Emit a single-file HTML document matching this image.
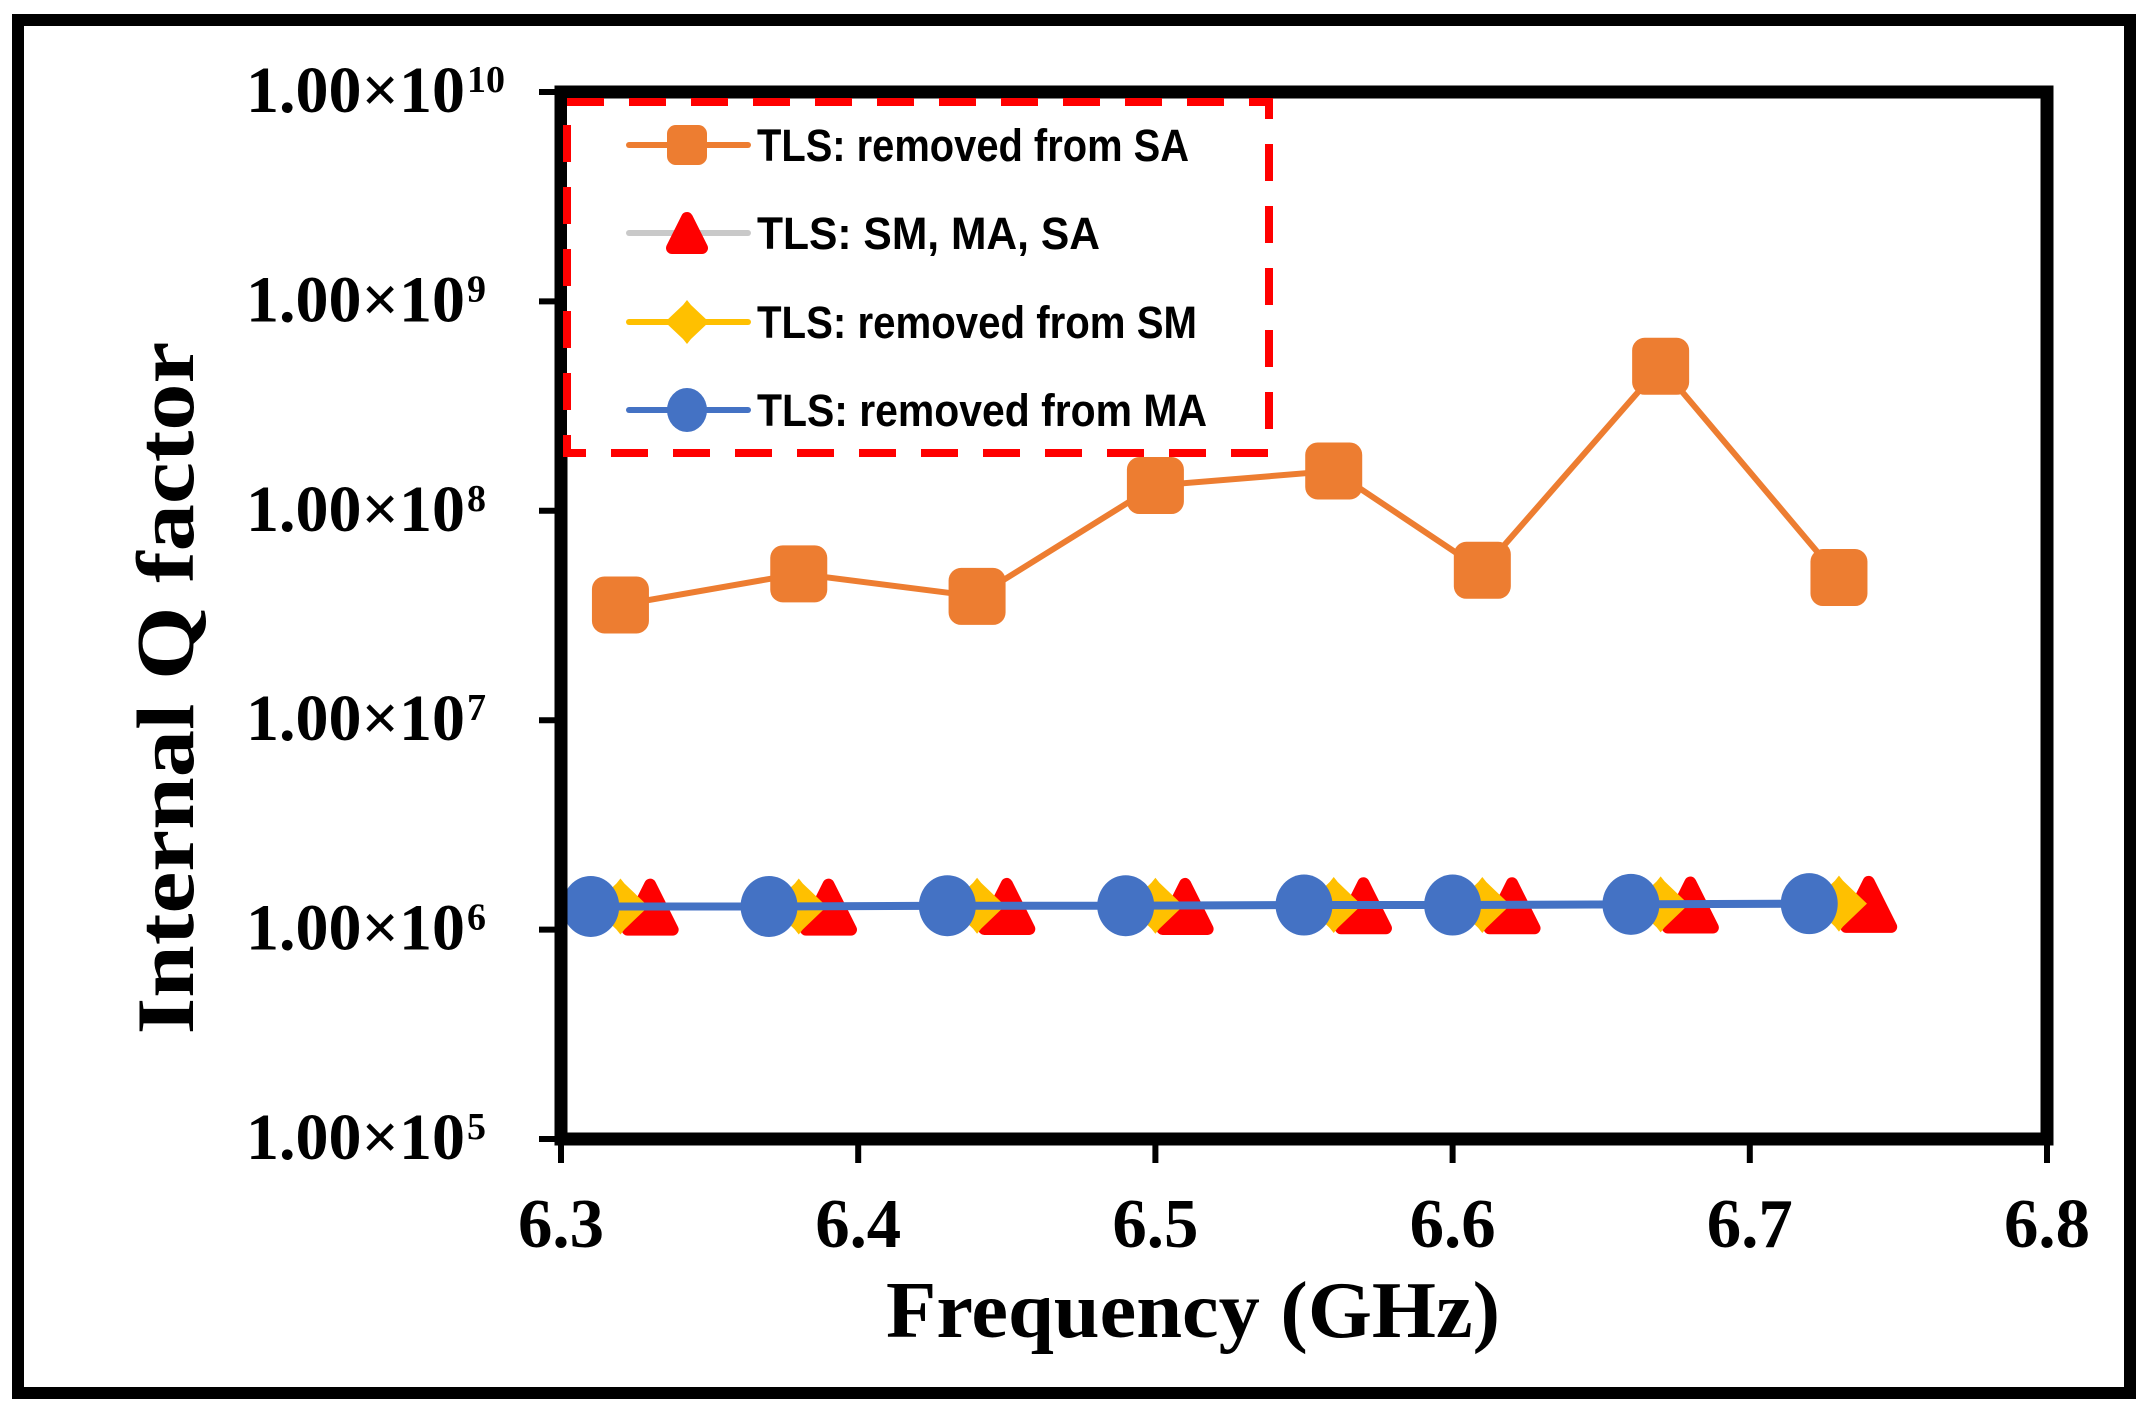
<!DOCTYPE html>
<html><head><meta charset="utf-8"><style>
html,body{margin:0;padding:0;background:#fff;}
svg{display:block;}
</style></head><body>
<svg id="chart" width="2144" height="1413" viewBox="0 0 2144 1413" xmlns="http://www.w3.org/2000/svg">
<rect x="18" y="20" width="2112" height="1373" fill="#fff" stroke="#000" stroke-width="12"/>
<g id="marks"></g>
<g id="axes"></g>
<g id="legend"></g>
<text x="1193" y="1337" font-family="Liberation Serif, serif" font-weight="bold" font-size="80" text-anchor="middle" textLength="614" lengthAdjust="spacingAndGlyphs">Frequency (GHz)</text>
<text transform="translate(193,688) rotate(-90)" x="0" y="0" font-family="Liberation Serif, serif" font-weight="bold" font-size="82" text-anchor="middle" textLength="693" lengthAdjust="spacingAndGlyphs">Internal Q factor</text>
</svg>
<script>
const NS='http://www.w3.org/2000/svg';
const xTicks=[6.3,6.4,6.5,6.6,6.7,6.8];
const xTickLabels=['6.3','6.4','6.5','6.6','6.7','6.8'];
const yExps=[5,6,7,8,9,10];
const freqSA=[6.32,6.38,6.44,6.50,6.56,6.61,6.67,6.73];
const qSA=[3.55e7,5.0e7,3.9e7,1.32e8,1.55e8,5.2e7,4.9e8,4.8e7];
const freqAll=[6.33,6.39,6.45,6.51,6.57,6.62,6.68,6.74];
const qAll=[1.28e6,1.28e6,1.29e6,1.29e6,1.30e6,1.30e6,1.31e6,1.32e6];
const freqSM=[6.32,6.38,6.44,6.50,6.56,6.61,6.67,6.73];
const qSM=[1.29e6,1.29e6,1.30e6,1.30e6,1.31e6,1.31e6,1.32e6,1.33e6];
const freqMA=[6.31,6.37,6.43,6.49,6.55,6.60,6.66,6.72];
const qMA=[1.29e6,1.29e6,1.30e6,1.30e6,1.31e6,1.31e6,1.32e6,1.33e6];
const legendLabels=['TLS: removed from SA','TLS: SM, MA, SA','TLS: removed from SM','TLS: removed from MA'];

const X0=561,X1=2047,Y0=1139,Y1=92;
function xs(f){return X0+(f-6.3)/0.5*(X1-X0);}
function ys(q){return Y0-(Math.log10(q)-5)/5*(Y0-Y1);}
function el(t,a,p){const e=document.createElementNS(NS,t);for(const k in a)e.setAttribute(k,a[k]);p.appendChild(e);return e;}
const marks=document.getElementById('marks'),axes=document.getElementById('axes'),leg=document.getElementById('legend');

function square(cx,cy,s,col,p){return el('rect',{x:cx-s/2,y:cy-s/2,width:s,height:s,rx:s*0.22,fill:col},p);}
function tri(cx,cy,s,col,p){const h=s;return el('path',{d:`M${cx} ${cy-h/2+6} L${cx+s/2-6} ${cy+h/2-6} L${cx-s/2+6} ${cy+h/2-6} Z`,fill:col,stroke:col,'stroke-width':12,'stroke-linejoin':'round'},p);}
function diamond(cx,cy,s,col,p){const r=s/2;return el('path',{d:`M${cx} ${cy-r} L${cx+4} ${cy-r+5} L${cx+r} ${cy} L${cx+4} ${cy+r-5} L${cx} ${cy+r} L${cx-4} ${cy+r-5} L${cx-r} ${cy} L${cx-4} ${cy-r+5} Z`,fill:col},p);}
function circ(cx,cy,s,col,p){return el('ellipse',{cx:cx,cy:cy,rx:s/2,ry:s/2+2,fill:col},p);}
function pts(fs,qs){return fs.map((f,i)=>xs(f)+','+ys(qs[i])).join(' ');}

let l=el('polyline',{points:pts(freqSA,qSA),fill:'none',stroke:'#ED7D31','stroke-width':6},marks);


freqSA.forEach((f,i)=>{const m=square(xs(f),ys(qSA[i]),57,'#ED7D31',marks);

});
l=el('polyline',{points:pts(freqAll,qAll),fill:'none',stroke:'#C9C9C9','stroke-width':6},marks);


freqAll.forEach((f,i)=>{const m=tri(xs(f),ys(qAll[i]),57,'#FF0000',marks);

});
l=el('polyline',{points:pts(freqSM,qSM),fill:'none',stroke:'#FFC000','stroke-width':6},marks);


freqSM.forEach((f,i)=>{const m=diamond(xs(f),ys(qSM[i]),56,'#FFC000',marks);

});
l=el('polyline',{points:pts(freqMA,qMA),fill:'none',stroke:'#4472C4','stroke-width':8},marks);


freqMA.forEach((f,i)=>{const m=circ(xs(f),ys(qMA[i]),57,'#4472C4',marks);

});

let a=el('rect',{x:X0,y:Y1,width:X1-X0,height:Y0-Y1,fill:'none',stroke:'#000','stroke-width':13},axes);


xTicks.forEach((t,i)=>{const x=xs(t);
const tk=el('line',{x1:x,y1:Y0,x2:x,y2:Y0+24,stroke:'#000','stroke-width':6},axes);


const tx=el('text',{x:x,y:1247,'font-family':'Liberation Serif, serif','font-weight':'bold','font-size':70,'text-anchor':'middle',textLength:86,lengthAdjust:'spacingAndGlyphs'},axes);
tx.textContent=xTickLabels[i];

});
yExps.forEach(e=>{const y=ys(Math.pow(10,e));
const tk=el('line',{x1:X0-22,y1:y,x2:X0,y2:y,stroke:'#000','stroke-width':6},axes);


const tx=el('text',{x:465,y:y+20,'font-family':'Liberation Serif, serif','font-weight':'bold','font-size':66,'text-anchor':'end',textLength:219,lengthAdjust:'spacingAndGlyphs'},axes);
tx.textContent='1.00\u00d710';


const sp=el('text',{x:467,y:y,'font-family':'Liberation Serif, serif','font-weight':'bold','font-size':38},axes);
sp.textContent=String(e);

});

const lb=el('rect',{x:567,y:102,width:702,height:351,fill:'#fff',stroke:'#FF0000','stroke-width':8,'stroke-dasharray':'37 25'},leg);


const legCols=['#ED7D31','#C9C9C9','#FFC000','#4472C4'];
const legY=[145,233,322,410];
const legW=[432,343,440,450];
legendLabels.forEach((t,i)=>{const g=el('g',{},leg);


el('line',{x1:629,y1:legY[i],x2:748,y2:legY[i],stroke:legCols[i],'stroke-width':6,'stroke-linecap':'round'},g);
if(i==0)square(687,legY[i],40,'#ED7D31',g);
if(i==1)tri(687,legY[i],42,'#FF0000',g);
if(i==2)diamond(687,legY[i],44,'#FFC000',g);
if(i==3)circ(687,legY[i],40,'#4472C4',g);
const tx=el('text',{x:757,y:legY[i]+16,'font-family':'Liberation Sans, sans-serif','font-weight':'bold','font-size':45,textLength:legW[i],lengthAdjust:'spacingAndGlyphs'},g);
tx.textContent=t;});
</script>
</body></html>
